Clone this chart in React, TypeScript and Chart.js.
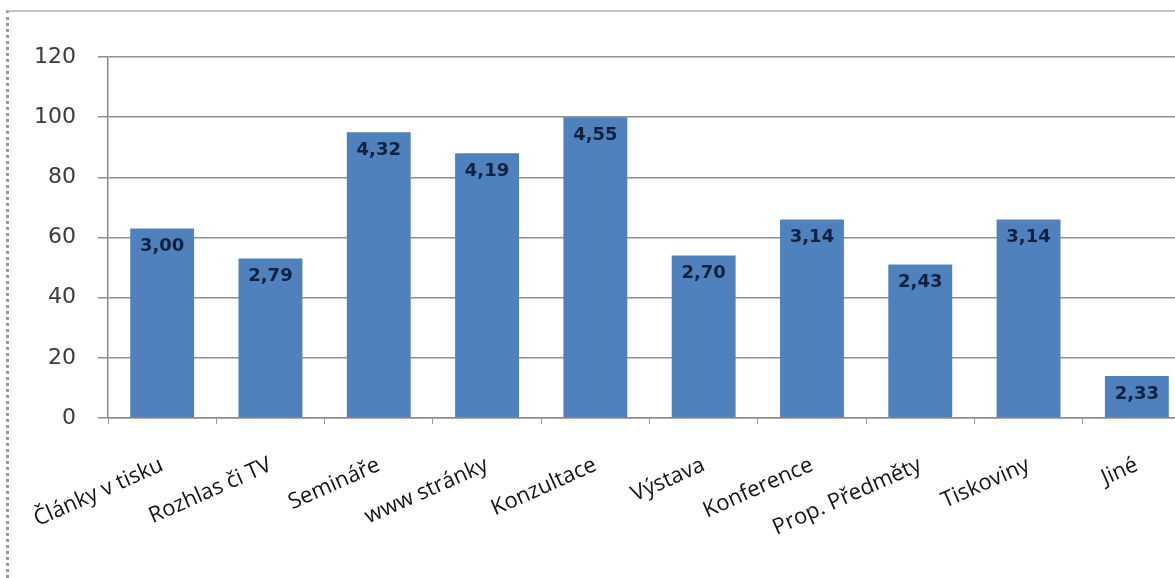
import React, { useEffect, useRef } from "react";
import { Chart, registerables } from "chart.js";

Chart.register(...registerables);

const categories = [
  "Články v tisku",
  "Rozhlas či TV",
  "Semináře",
  "www stránky",
  "Konzultace",
  "Výstava",
  "Konference",
  "Prop. Předměty",
  "Tiskoviny",
  "Jiné",
];
const values = [63, 53, 95, 88, 100, 54, 66, 51, 66, 14];
const barLabels = ["3,00", "2,79", "4,32", "4,19", "4,55", "2,70", "3,14", "2,43", "3,14", "2,33"];
const yMin = 0;
const yMax = 120;
const yStep = 20;

const barLabelPlugin = {
  id: "barLabels",
  afterDatasetsDraw(chart: any) {
    const ctx = chart.ctx;
    const meta = chart.getDatasetMeta(0);
    ctx.save();
    ctx.font = "bold 18px 'DejaVu Sans'";
    ctx.fillStyle = "#0f2240";
    ctx.textAlign = "center";
    ctx.textBaseline = "middle";
    meta.data.forEach((bar: any, i: number) => {
      ctx.fillText(barLabels[i], bar.x, bar.y + 18);
    });
    ctx.restore();
  },
};

export default function App() {
  const ref = useRef<HTMLCanvasElement | null>(null);

  useEffect(() => {
    if (!ref.current) return;
    const chart = new Chart(ref.current, {
      type: "bar",
      data: {
        labels: categories,
        datasets: [
          {
            data: values,
            backgroundColor: "#4f81bd",
            borderWidth: 0,
            barPercentage: 0.59,
            categoryPercentage: 1,
          },
        ],
      },
      options: {
        responsive: false,
        animation: false,
        layout: { padding: { top: 57, right: 49, left: 0, bottom: 0 } },
        plugins: {
          legend: { display: false },
          tooltip: { enabled: false },
          title: { display: false },
        },
        scales: {
          x: {
            type: "category",
            offset: true,
            grid: {
              offset: true,
              drawOnChartArea: false,
              drawTicks: true,
              tickLength: 6,
              color: "#9a9a9a",
              lineWidth: 1,
            },
            border: { display: true, color: "#8c8c8c", width: 1.5 },
            ticks: {
              autoSkip: false,
              maxRotation: 24,
              minRotation: 24,
              padding: 28,
              color: "#151515",
              font: { family: "'Open Sans'", size: 22 },
            },
            afterFit(scale: any) {
              scale.height = 160;
            },
          },
          y: {
            min: yMin,
            max: yMax,
            ticks: {
              stepSize: yStep,
              padding: 22,
              color: "#3a3a3a",
              font: { family: "'DejaVu Sans'", size: 22 },
            },
            grid: {
              color: "#8f8f8f",
              lineWidth: 1.5,
              drawTicks: true,
              tickLength: 10,
            },
            border: { display: true, color: "#8c8c8c", width: 1.5 },
            afterFit(scale: any) {
              scale.width = 108;
            },
          },
        },
      },
      plugins: [barLabelPlugin],
    });
    return () => chart.destroy();
  }, []);

  return (
    <div
      style={{
        position: "fixed",
        left: 0,
        top: 0,
        width: 1175,
        height: 578,
        overflow: "hidden",
        background: "#fff",
      }}
    >
      <div
        style={{
          position: "absolute",
          left: 6,
          top: 10,
          width: 1400,
          height: 800,
          borderTop: "2px solid #c4c4c4",
          borderLeft: "3px dotted #9a9a9a",
        }}
      />
      <canvas
        ref={ref}
        width={1240}
        height={578}
        style={{ position: "absolute", left: 0, top: 0, width: 1240, height: 578 }}
      />
    </div>
  );
}
